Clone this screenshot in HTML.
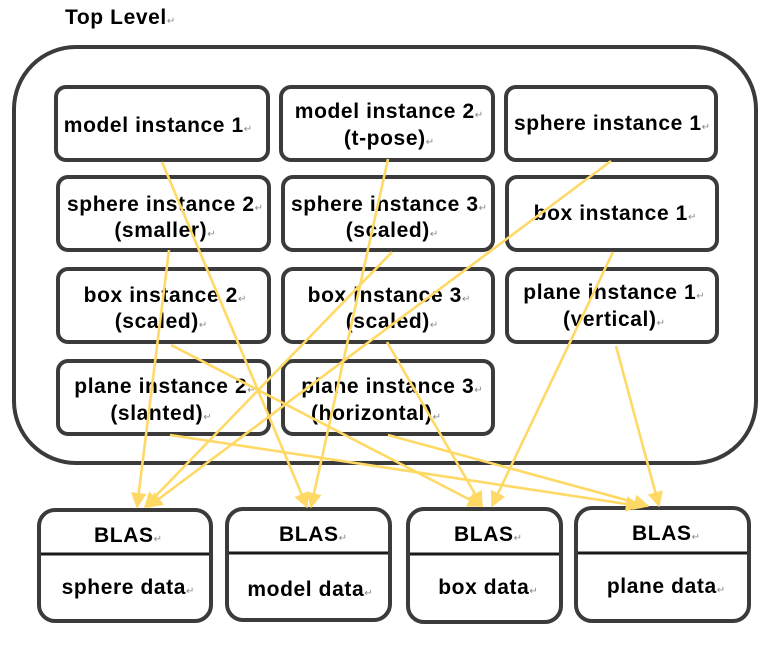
<!DOCTYPE html>
<html><head><meta charset="utf-8"><style>
html,body{margin:0;padding:0;background:#fff;}
text{font-family:"Liberation Sans",Arial,sans-serif;font-weight:bold;font-size:21px;letter-spacing:0.6px;fill:#000;}
.r{font-size:10px;fill:#888;font-weight:normal;letter-spacing:0;}
</style></head><body>
<svg width="774" height="641" viewBox="0 0 774 641" xmlns="http://www.w3.org/2000/svg">
<defs><marker id="a" viewBox="0 0 10 10" refX="9" refY="5" markerWidth="6.5" markerHeight="6" orient="auto" markerUnits="strokeWidth"><path d="M0,0 L10,5 L0,10 z" fill="#ffd966"/></marker></defs>
<text x="65" y="24">Top Level<tspan class="r">↵</tspan></text>
<rect x="14" y="47" width="742" height="416" rx="62" fill="none" stroke="#3b3b3b" stroke-width="4"/>
<g fill="#fff" stroke="#3b3b3b" stroke-width="4">
<rect x="56" y="87" width="212" height="73" rx="10"/>
<rect x="281" y="87" width="212" height="73" rx="10"/>
<rect x="506" y="87" width="210" height="73" rx="10"/>
<rect x="58" y="177" width="211" height="73" rx="10"/>
<rect x="283" y="177" width="210" height="73" rx="10"/>
<rect x="507" y="177" width="210" height="73" rx="10"/>
<rect x="58" y="269" width="211" height="73" rx="10"/>
<rect x="283" y="269" width="210" height="73" rx="10"/>
<rect x="507" y="269" width="210" height="73" rx="10"/>
<rect x="58" y="361" width="211" height="73" rx="10"/>
<rect x="283" y="361" width="210" height="73" rx="10"/>
<rect x="39" y="510" width="172" height="111" rx="16"/>
<rect x="227" y="509" width="163" height="111" rx="16"/>
<rect x="408" y="509" width="153" height="113" rx="16"/>
<rect x="576" y="508" width="173" height="113" rx="16"/>
</g>
<g stroke="#1a1a1a" stroke-width="3">
<line x1="41" y1="554" x2="209" y2="554"/>
<line x1="229" y1="553" x2="388" y2="553"/>
<line x1="410" y1="554" x2="559" y2="554"/>
<line x1="578" y1="553" x2="747" y2="553"/>
</g>
<g text-anchor="middle">
<text x="158" y="132">model instance 1<tspan class="r">↵</tspan></text>
<text x="389" y="118">model instance 2<tspan class="r">↵</tspan></text>
<text x="389" y="145">(t-pose)<tspan class="r">↵</tspan></text>
<text x="612" y="130">sphere instance 1<tspan class="r">↵</tspan></text>
<text x="165" y="211">sphere instance 2<tspan class="r">↵</tspan></text>
<text x="165" y="237">(smaller)<tspan class="r">↵</tspan></text>
<text x="389" y="211">sphere instance 3<tspan class="r">↵</tspan></text>
<text x="392" y="237">(scaled)<tspan class="r">↵</tspan></text>
<text x="615" y="220">box instance 1<tspan class="r">↵</tspan></text>
<text x="165" y="302">box instance 2<tspan class="r">↵</tspan></text>
<text x="161" y="328">(scaled)<tspan class="r">↵</tspan></text>
<text x="389" y="302">box instance 3<tspan class="r">↵</tspan></text>
<text x="392" y="328">(scaled)<tspan class="r">↵</tspan></text>
<text x="614" y="299">plane instance 1<tspan class="r">↵</tspan></text>
<text x="614" y="326">(vertical)<tspan class="r">↵</tspan></text>
<text x="165" y="393">plane instance 2<tspan class="r">↵</tspan></text>
<text x="161" y="420">(slanted)<tspan class="r">↵</tspan></text>
<text x="392" y="393">plane instance 3<tspan class="r">↵</tspan></text>
<text x="376" y="420">(horizontal)<tspan class="r">↵</tspan></text>
<text x="128" y="542">BLAS<tspan class="r">↵</tspan></text>
<text x="128" y="594">sphere data<tspan class="r">↵</tspan></text>
<text x="313" y="541">BLAS<tspan class="r">↵</tspan></text>
<text x="310" y="596">model data<tspan class="r">↵</tspan></text>
<text x="488" y="541">BLAS<tspan class="r">↵</tspan></text>
<text x="488" y="594">box data<tspan class="r">↵</tspan></text>
<text x="666" y="540">BLAS<tspan class="r">↵</tspan></text>
<text x="666" y="593">plane data<tspan class="r">↵</tspan></text>
</g>
<g stroke="#ffd966" stroke-width="2.6" fill="none" marker-end="url(#a)">
<line x1="162" y1="162" x2="307" y2="507"/>
<line x1="388" y1="159" x2="311" y2="507"/>
<line x1="611" y1="161" x2="148" y2="507"/>
<line x1="169" y1="250" x2="137" y2="507"/>
<line x1="392" y1="252" x2="145" y2="507"/>
<line x1="613" y1="252" x2="492" y2="506"/>
<line x1="171" y1="345" x2="482" y2="506"/>
<line x1="387" y1="342" x2="482" y2="506"/>
<line x1="616" y1="346" x2="659" y2="506"/>
<line x1="170" y1="435" x2="640" y2="506"/>
<line x1="388" y1="435" x2="648" y2="506"/>
</g>
</svg>
</body></html>
